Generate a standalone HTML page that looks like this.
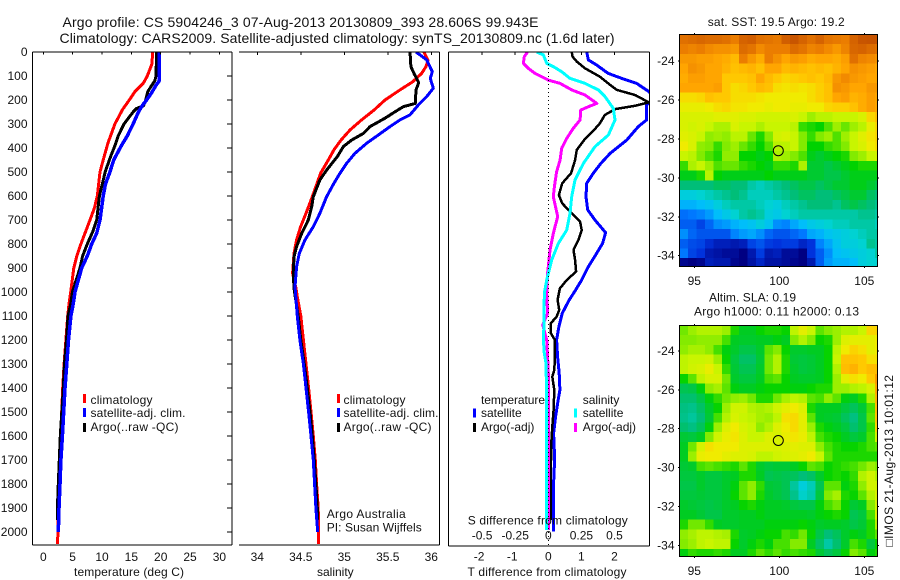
<!DOCTYPE html>
<html>
<head>
<meta charset="utf-8">
<title>Argo profile</title>
<style>
html,body{margin:0;padding:0;background:#fff;}
svg{display:block;font-family:"Liberation Sans","DejaVu Sans",sans-serif;font-size:12px;fill:#000;}
text{dominant-baseline:central;fill:#111;}
</style>
</head>
<body>
<svg id="figure" width="900" height="580" viewBox="0 0 900 580" xmlns="http://www.w3.org/2000/svg">
<rect x="0" y="0" width="900" height="580" fill="#fff"/>
<defs>
<clipPath id="clip-temp"><rect x="32.5" y="52" width="199.5" height="493"/></clipPath>
<clipPath id="clip-sal"><rect x="239" y="52" width="200.5" height="493"/></clipPath>
<clipPath id="clip-diff"><rect x="448.5" y="52" width="200.5" height="493"/></clipPath>
<clipPath id="clip-sst"><rect x="679.5" y="34.5" width="198" height="232"/></clipPath>
<clipPath id="clip-sla"><rect x="679.5" y="325.5" width="198" height="231"/></clipPath>
</defs>
<text x="62.5" y="22" font-size="14" textLength="476" lengthAdjust="spacing">Argo profile: CS 5904246_3 07-Aug-2013 20130809_393 28.606S 99.943E</text>
<text x="59.5" y="38" font-size="14" textLength="555" lengthAdjust="spacing">Climatology: CARS2009. Satellite-adjusted climatology: synTS_20130809.nc (1.6d later)</text>

<g id="panel-temp"></g>
<g id="panel-sal"></g>
<g id="panel-diff"></g>
<g id="map-sst"></g>
<g id="map-sla"></g>

<g>
<rect x="83" y="394" width="3" height="9" fill="#f00"/>
<text x="90.5" y="400" textLength="62">climatology</text>
<rect x="83" y="408" width="3" height="9" fill="#00f"/>
<text x="90.5" y="413" textLength="95">satellite-adj. clim.</text>
<rect x="83" y="423" width="3" height="9" fill="#000"/>
<text x="90.5" y="427" textLength="88">Argo(..raw -QC)</text>
</g>
<g>
<rect x="337" y="394" width="3" height="9" fill="#f00"/>
<text x="343.5" y="400" textLength="62">climatology</text>
<rect x="337" y="408" width="3" height="9" fill="#00f"/>
<text x="343.5" y="413" textLength="95">satellite-adj. clim.</text>
<rect x="337" y="423" width="3" height="9" fill="#000"/>
<text x="343.5" y="427" textLength="88">Argo(..raw -QC)</text>
<text x="326.7" y="514" textLength="79">Argo Australia</text>
<text x="326.7" y="527.5" textLength="95">PI: Susan Wijffels</text>
</g>
<g>
<text x="481" y="400" textLength="64">temperature</text>
<rect x="473" y="408.5" width="3" height="9" fill="#00f"/>
<text x="481" y="413">satellite</text>
<rect x="473" y="423" width="3" height="9" fill="#000"/>
<text x="481" y="427">Argo(-adj)</text>
<text x="582.7" y="400">salinity</text>
<rect x="574" y="408.5" width="3" height="9" fill="#0ff"/>
<text x="582.7" y="413">satellite</text>
<rect x="574" y="423" width="3" height="9" fill="#f0f"/>
<text x="582.7" y="427">Argo(-adj)</text>
</g>
<text x="467.7" y="520.7" textLength="160">S difference from climatology</text>
<text x="467.5" y="572" textLength="159">T difference from climatology</text>
<text x="74" y="572" textLength="110">temperature (deg C)</text>
<text x="317" y="572">salinity</text>
<text x="707.7" y="22" textLength="137">sat. SST: 19.5 Argo: 19.2</text>
<text x="709" y="297.5" textLength="87">Altim. SLA: 0.19</text>
<text x="694" y="311.5" textLength="165">Argo h1000: 0.11 h2000: 0.13</text>
<text transform="translate(889,546.5) rotate(-90)" textLength="171.5">□IMOS 21-Aug-2013 10:01:12</text>
</svg>

<script>
// ---------- profile data (depth in m, temperature in deg C, salinity in psu) ----------
const tempClimDepths = [0,50,100,130,165,200,240,300,380,450,500,600,650,700,755,800,850,900,1000,1050,1100,1200,1300,1400,1500,1600,1700,1800,1900,2000,2050];
const tempClimValues = [18.63,18.5,17.72,17.04,15.6,14.65,13.5,12.2,11,10.2,9.66,9.2,8.7,7.95,7.1,6.4,5.7,5.2,4.66,4.37,4.15,3.85,3.55,3.3,3.13,2.96,2.73,2.62,2.45,2.5,2.4];
const tempArgoDepths = [0,100,120,140,165,200,225,235,250,300,350,390,450,500,550,600,700,750,800,850,900,1000,1050,1100,1200,1300,1400,1500,1600,1700,1800,1900,1950];
const tempArgoValues = [19.3,19.2,19,18.45,17.8,17.45,17.05,15.9,15.3,13.75,12.75,12.2,11.25,10.55,10.05,9.55,9.1,8.4,7.5,6.7,6.25,4.95,4.66,4.2,3.95,3.6,3.4,3.15,2.9,2.73,2.56,2.4,2.4];
const tempSatDepths = [0,120,135,170,200,222,250,300,350,390,450,500,550,600,700,755,800,850,900,1000,1050,1100,1200,1300,1400,1500,1600,1700,1800,1900,2000];
const tempSatValues = [19.76,19.76,19.3,18.45,17.6,16.9,16.2,15.3,14.3,13.3,12,11.35,10.6,10.2,9.66,9.1,8.25,7.5,6.55,5.4,5.1,4.7,4.3,4,3.7,3.48,3.26,3,2.85,2.68,2.56];

const salClimDepths = [0,36,61,89,124,158,200,242,283,325,367,408,450,505,561,617,672,728,783,839,922,985,1020,1100,1200,1300,1400,1500,1600,1700,1800,1900,2000,2050];
const salClimValues = [35.916,35.962,35.939,35.889,35.786,35.64,35.468,35.341,35.199,35.065,34.962,34.881,34.816,34.728,34.674,34.617,34.56,34.498,34.452,34.422,34.406,34.445,34.46,34.5,34.53,34.56,34.59,34.617,34.644,34.667,34.682,34.7,34.705,34.705];
const salArgoDepths = [0,61,89,128,158,214,228,249,276,311,339,367,394,436,492,533,603,644,700,756,811,853,922,985,1100,1200,1300,1400,1500,1600,1700,1800,1900,1950];
const salArgoValues = [35.755,35.766,35.801,35.855,35.824,35.816,35.678,35.583,35.468,35.295,35.219,35.084,34.989,34.92,34.797,34.72,34.644,34.625,34.586,34.51,34.452,34.422,34.414,34.422,34.47,34.5,34.54,34.575,34.606,34.632,34.655,34.674,34.69,34.69];
const salSatDepths = [0,12,33,82,110,151,186,221,262,283,311,346,380,422,464,505,547,603,672,728,783,839,894,978,1100,1200,1300,1400,1500,1600,1700,1800,1900,2000];
const salSatValues = [35.824,35.87,35.947,36.012,35.989,36.023,35.947,35.851,35.755,35.64,35.525,35.391,35.257,35.123,35.027,34.95,34.881,34.797,34.72,34.644,34.548,34.483,34.452,34.433,34.46,34.49,34.53,34.56,34.59,34.617,34.644,34.659,34.674,34.694];

const dTSatDepths = [0,33,54,89,110,131,165,193,221,283,311,367,422,464,505,547,603,658,700,753,797,839,894,950,1006,1033,1089,1144,1200,1270,1339,1408,1464,1519,1589,1658,1728,1797,1867,1950,1998];
const dTSatValues = [1.16,1.21,1.46,1.81,2.22,2.67,3.04,3.2,2.97,2.97,2.72,2.37,1.87,1.59,1.36,1.16,1.14,1.19,1.41,1.73,1.64,1.46,1.21,1.01,0.76,0.63,0.42,0.32,0.25,0.28,0.33,0.35,0.28,0.22,0.16,0.18,0.18,0.16,0.15,0.15,0.15];
const dTArgoDepths = [0,19,40,68,103,131,158,179,210,224,238,262,297,325,362,408,450,505,547,596,631,672,707,742,783,825,867,915,950,985,1033,1075,1103,1130,1172,1200,1270,1325,1353,1408,1492,1561,1630,1728,1867,1950];
const dTArgoValues = [0.71,0.73,0.86,1.11,1.56,1.81,2.07,2.62,3.04,2.62,2.02,1.71,1.56,1.38,1.11,0.86,0.81,0.69,0.42,0.32,0.42,0.71,0.96,1.01,0.91,0.76,0.81,0.84,0.56,0.35,0.28,0.33,0.25,0.08,0.08,0.2,0.2,0.18,0.12,0.18,0.16,0.12,0.09,0.08,0.08,0.08];
const dSSatDepths = [0,12,47,61,82,110,131,158,186,235,283,346,394,464,533,603,672,742,797,867,950,1006,1117,1200,1256,1297,1450,1728,1992];
const dSSatValues = [-0.088,-0.037,-0.012,0.038,0.101,0.164,0.277,0.378,0.428,0.491,0.504,0.454,0.353,0.265,0.202,0.177,0.164,0.139,0.076,0.026,-0.012,-0.03,-0.032,-0.037,-0.03,-0.017,-0.012,-0.012,-0.012];
const dSArgoDepths = [0,19,47,68,89,117,131,158,179,214,228,242,283,318,360,401,450,499,561,603,686,756,825,922,1006,1089,1137,1200,1270,1339,1500,1992];
const dSArgoValues = [-0.156,-0.181,-0.188,-0.151,-0.1,0,0.089,0.177,0.277,0.366,0.303,0.245,0.24,0.189,0.139,0.101,0.089,0.063,0.046,0.038,0.071,0.038,0.013,-0.005,-0.012,-0.005,-0.042,-0.012,-0.005,0,0,0];

const depthTicks = [0,100,200,300,400,500,600,700,800,900,1000,1100,1200,1300,1400,1500,1600,1700,1800,1900,2000];
const tempTicks = [0,5,10,15,20,25,30];
const salTicks = [34,34.5,35,35.5,36];
const salTickLabels = ['34','34.5','35','35.5','36'];
const dTTicks = [-2,-1,0,1,2];
const dSTicks = [-0.5,-0.25,0,0.25,0.5];
const dSTickLabels = ['-0.5','-0.25','0','0.25','0.5'];
const lonTicks = [95,100,105];
const latTicks = [24,26,28,30,32,34];

// ---------- map data: 0.5-degree rows north to south, west to east ----------
const sstRows = [
[21.9,22,22.1,22,22,21.9,21.6,22.2,22.3,21.9,21.8,21.7,22.3,22.6,22.2,21.9,22.2,21.8,21.7,21.6,22.2,22.6,22.7,22.6],
[21.6,21.5,21.6,21.4,21.3,21.3,21.2,22,21.8,21.4,21.6,21.6,21.6,22,21.8,21.5,21.6,21.4,21.2,21.5,22.1,22.2,22,21.9],
[21.2,21.2,21.1,21.1,21,20.9,20.7,21.6,21.2,20.9,21.6,21.3,21,21.2,21.1,20.9,21,21,20.9,21.1,21.9,21.5,21.4,21.3],
[21,21.3,21.2,21,21,20.8,20.6,20.7,20.8,20.6,21,21,20.7,20.8,20.7,20.6,20.7,20.6,20.8,21,21.3,21.2,21.1,21],
[20.9,21.1,21.1,21,21,20.5,20.5,20.5,20.6,21,20.7,20.5,20.3,20.4,20.5,20.6,20.5,20.7,21.2,21.4,21.2,21.1,21,21],
[21,21,21,21,21.1,20.5,20.2,20.3,20.5,20.7,20.6,20.2,20.1,20.2,20.1,20.2,20.4,20.6,21.3,21.2,21,21,21.2,21.2],
[20.2,20.2,20.3,20.6,20.5,20.5,20.2,20.2,20.2,20.1,20,20,20,20,20,20.2,20.4,20.6,21,21.1,20.8,20.9,21.1,21],
[19.9,19.9,19.9,20,20.2,20.3,20.1,20.1,20,20,19.9,20,20,19.9,19.9,20,20,20.3,20.4,20.4,20.6,20.9,21.1,21],
[19.7,19.7,19.7,19.7,19.8,19.8,19.8,19.7,19.7,19.6,19.6,19.6,19.6,19.7,19.5,19.2,19.4,19.4,19.5,19.5,19.5,19.7,20.3,20.6],
[19.7,19.6,19.7,19.5,19.3,19.3,19.7,19.5,19.5,19.3,19.5,19.5,19.5,19.4,18.7,18.6,18.5,18.8,19.2,18.9,19.2,19.4,19.9,20.3],
[19.8,19.7,19.5,19.1,19.2,19.1,19.4,19.4,18.9,18.6,19,19.6,19.7,19.5,19,18.7,19,19.2,18.8,19.2,19.5,19.8,20.1,20.3],
[20,19.7,19.1,19,18.7,19,19.2,18.9,18.7,18.5,18.8,19.4,19.4,19.5,19,18.5,18.5,18.7,18.8,19,19.5,19.7,20,20.2],
[19.5,19.4,19,18.8,18.6,19.1,19.1,18.5,18.5,18.4,18.5,19.3,19.2,19,18.8,18.4,18.3,18.4,18.5,18.6,19,19.2,19.5,19.6],
[18.7,19.3,19.5,19.2,18.8,18.9,18.9,18.7,18.6,18.5,18.4,18.7,18.7,18.6,19.3,18.3,18.3,18.2,18.3,18.4,18.5,18.6,18.6,18.6],
[18.4,18.4,18.6,19.4,18.5,18.4,18.4,18.4,18.4,18.4,18.5,18.4,18.4,18.4,18.4,18.3,18.3,18.2,18.2,18.3,18.4,18.4,18.4,18.4],
[18,18,18,18,18.1,18.1,18,18,17.8,17.7,17.8,17.9,18,18.1,18.2,18.2,18.1,18.2,18.3,18.3,18.4,18.4,18.3,18.2],
[17.5,17.5,17.6,17.7,17.8,17.9,18,17.9,17.7,17.7,17.7,17.8,17.9,18,18.1,18.1,18,18,18.1,18.2,18.3,18.3,18.1,18],
[17.1,17.1,17.2,17.3,17.5,17.7,17.8,17.8,17.8,17.7,17.6,17.5,17.7,17.8,17.9,18,18,18,17.9,18.1,18.2,18.1,18,17.9],
[16.5,16.6,16.7,16.9,17.2,17.4,17.6,17.8,17.9,17.8,17.5,17.4,17.6,17.7,17.8,17.8,17.8,17.8,17.8,17.8,17.8,17.9,17.9,17.8],
[16.3,16.3,16,16.4,16.8,16.9,17.1,17.2,17.3,17.5,17.3,16.8,16.7,17,17.2,17.4,17.5,17.6,17.7,17.7,17.8,17.8,17.8,17.7],
[16.8,16.4,16.2,16.2,16.2,16.2,16.7,16.9,17,16.8,16.4,16.2,16.2,16.4,16.6,17,17.1,17.3,17.4,17.5,17.6,17.7,17.8,17.8],
[16.3,16.1,16,15.7,15.5,15.5,15.4,15.5,16,16.2,15.9,15.8,15.9,15.9,15.6,15.8,16.7,17,17.3,17.5,17.5,17.6,17.9,17.8],
[16.6,16,15.8,15.4,15.3,15.2,15.2,15,15.4,15.9,15.4,15.5,15.2,15.2,15,15.8,16.3,16.8,17.2,17.3,17.4,17.5,17.6,17.8],
[15.1,15,15.1,15.5,15.4,15.4,15.1,15,15.3,15.6,15.3,15.3,15.2,15.1,15,15.4,16.3,16.9,17.1,17.1,17.2,17.5,17.6,17.6]
];
const slaRows = [
[.07,.1,.12,.12,.12,.1,.03,0,0,.02,.03,.03,.02,.13,.18,.14,.06,.08,.1,.12,.12,.14,.24,.24],
[.08,.08,.09,.09,.09,.05,0,-.01,-.01,0,0,.01,0,.08,.12,.08,.02,.03,.1,.17,.18,.18,.18,.2],
[.09,.11,.11,.09,.05,.01,-.01,-.04,-.04,-.01,.06,.08,.02,-.01,-.01,0,0,.02,.13,.2,.24,.22,.18,.2],
[.13,.14,.14,.15,.1,.02,-.03,-.07,-.07,-.02,.07,.12,.03,-.02,-.03,-.02,0,.02,.14,.27,.27,.26,.22,.22],
[.13,.15,.16,.19,.14,.04,-.02,-.05,-.05,-.01,.07,.12,.03,-.01,-.03,-.02,0,.02,.12,.28,.3,.26,.28,.28],
[.02,.06,.13,.16,.16,.07,-.01,-.03,-.03,0,.05,.06,.02,0,-.01,-.01,0,.02,.1,.18,.22,.2,.26,.34],
[-.05,-.04,.01,.09,.11,.06,.01,0,0,.01,.02,.02,.02,.01,.01,.02,.03,.03,.1,.1,.12,.13,.16,.32],
[-.08,-.08,-.04,.01,.04,.07,.09,.1,.07,.03,.03,.07,.11,.13,.12,.06,.05,.09,.06,.01,0,.03,.12,.3],
[-.1,-.11,-.07,-.01,.02,.1,.15,.15,.12,.11,.12,.15,.18,.2,.17,.03,0,0,0,-.03,-.06,-.02,.05,.28],
[-.11,-.13,-.09,-.02,.05,.12,.16,.14,.13,.11,.1,.13,.22,.23,.18,.06,0,-.01,-.02,-.06,-.1,-.04,.06,.27],
[-.08,-.1,-.06,.01,.1,.17,.2,.16,.14,.09,.12,.17,.2,.23,.18,.1,.03,.01,0,-.03,-.08,-.04,.04,.24],
[-.02,-.03,0,.08,.15,.19,.21,.17,.14,.14,.17,.16,.19,.21,.19,.13,.05,.03,.02,0,-.03,-.01,.05,.15],
[0,.07,.16,.22,.2,.2,.2,.17,.17,.17,.17,.16,.17,.18,.17,.17,.09,.05,.03,.02,.02,.03,.05,.06],
[0,.1,.19,.2,.2,.18,.17,.17,.16,.13,.13,.15,.16,.17,.18,.2,.14,.06,.03,.03,.03,.03,.03,.03],
[-.02,-.01,.05,.06,.05,.04,.03,.06,.03,-.01,-.03,-.02,-.02,0,.02,.06,.05,.02,.03,.04,.05,.07,.1,.08],
[-.03,-.03,-.01,-.03,-.03,-.01,0,.03,.03,0,-.05,-.04,-.05,-.06,-.09,-.07,-.01,.02,.03,.02,.04,.12,.15,.12],
[-.04,-.04,-.01,-.03,-.03,-.01,.01,.06,.09,.04,-.02,-.03,-.05,-.13,-.21,-.16,-.05,.06,.06,.01,.03,.09,.15,.15],
[-.03,-.03,-.02,-.03,-.03,-.01,.02,.06,.09,.03,-.01,-.03,-.05,-.11,-.18,-.15,-.03,.08,.11,.03,.02,.06,.12,.16],
[-.01,-.02,-.03,-.04,-.03,-.01,0,.02,.03,.01,0,0,-.01,-.03,-.04,-.04,.01,.05,.07,.02,-.02,0,.08,.15],
[0,0,-.02,-.04,-.04,-.01,-.01,0,0,.01,0,0,0,0,0,-.01,.01,.02,.03,.02,-.05,-.03,.05,.16],
[.03,.07,.07,.04,0,-.01,-.01,0,0,0,.01,.01,.01,.01,.02,.01,-.01,0,0,-.01,-.04,-.02,.03,.12],
[.09,.11,.13,.13,.12,.11,.03,-.01,0,.01,.02,.02,.05,.04,.07,.02,-.04,-.09,-.06,-.01,.01,0,.03,.06],
[.08,.1,.13,.14,.13,.13,.02,-.01,.01,.03,.01,.05,.05,.08,.08,0,-.07,-.14,-.08,-.01,.05,.03,-.03,.02],
[.01,.04,.03,.03,.04,.03,0,0,.03,.06,.04,.06,.04,.05,.04,.03,-.02,-.06,-.03,.02,.08,.06,.01,.03]
];
const floatLon = [99.943];
const floatLat = [28.606];

// ---------- axis functions ----------
const yDepth = d => 52 + 0.24 * d;
const xTemp = t => 43.3 + 5.87 * t;
const xSal = s => 257.3 + 87 * (s - 34);
const xDT = t => 548.3 + 33.1 * t;
const xDS = s => 548.3 + 132.4 * s;
const xLon = lon => 694.3 + 17 * (lon - 95);
const ySstLat = lat => 61 + 19.47 * (lat - 24);
const ySlaLat = lat => 351 + 19.43 * (lat - 24);
const sstNorm = v => (v - 15) / 8;
const slaNorm = v => v < 0 ? 0.42 + 0.5 * v : 0.42 + 1.025 * v;

const colorScale = [
 [0,[0,0,130]],[0.1,[0,50,220]],[0.2,[0,120,255]],[0.275,[0,190,250]],[0.325,[0,210,210]],
 [0.375,[0,190,120]],[0.4375,[0,210,0]],[0.5,[130,235,0]],[0.5625,[200,245,0]],[0.625,[240,235,0]],
 [0.6875,[255,200,0]],[0.75,[255,165,0]],[0.825,[235,125,0]],[0.925,[205,90,0]],[1,[190,75,0]]
];
function colorFor(p){
  p = Math.max(0, Math.min(1, p));
  for (let i = 1; i < colorScale.length; i++) {
    if (p <= colorScale[i][0]) {
      const a = colorScale[i-1], b = colorScale[i];
      const f = (p - a[0]) / (b[0] - a[0]);
      const c = a[1].map((v, k) => Math.round(v + (b[1][k] - v) * f));
      return 'rgb(' + c.join(',') + ')';
    }
  }
  return 'rgb(190,75,0)';
}

const NS = 'http://www.w3.org/2000/svg';
function mk(tag, parent, attrs){
  const el = document.createElementNS(NS, tag);
  for (const k in attrs) el.setAttribute(k, attrs[k]);
  parent.appendChild(el);
  return el;
}
function label(parent, txt, x, y, anchor){
  const el = mk('text', parent, {x: x, y: y, 'text-anchor': anchor || 'middle'});
  el.textContent = txt;
  return el;
}
function axisLine(parent, x1, y1, x2, y2){
  return mk('line', parent, {x1: x1, y1: y1, x2: x2, y2: y2, stroke: '#000', 'stroke-width': 1, 'shape-rendering': 'crispEdges'});
}
function profile(parent, clipId, depths, values, xFn, color, width){
  const pts = depths.map((d, i) => xFn(values[i]).toFixed(1) + ',' + yDepth(d).toFixed(1)).join(' ');
  return mk('polyline', parent, {points: pts, fill: 'none', stroke: color, 'stroke-width': width, 'clip-path': 'url(#' + clipId + ')', 'shape-rendering': 'crispEdges', 'stroke-linejoin': 'round'});
}
function frameSide(g, x1, y1, x2, y2, name){
  const el = axisLine(g, x1, y1, x2, y2);
  
  
}

// ---------- temperature panel ----------
const pT = document.getElementById('panel-temp');
let s;
s = profile(pT, 'clip-temp', tempClimDepths, tempClimValues, xTemp, '#f00', 3);


s = profile(pT, 'clip-temp', tempArgoDepths, tempArgoValues, xTemp, '#000', 3);


s = profile(pT, 'clip-temp', tempSatDepths, tempSatValues, xTemp, '#00f', 3.5);


frameSide(pT, 32.5, 52, 232, 52, 'temperature-axis-top');
frameSide(pT, 32.5, 545, 232, 545, 'temperature-axis-bottom');
frameSide(pT, 32.5, 52, 32.5, 545, 'temperature-axis-left');
frameSide(pT, 232, 52, 232, 545, 'temperature-axis-right');
depthTicks.forEach(d => {
  const t = axisLine(pT, 227, yDepth(d), 232, yDepth(d));
  
  
  const l = label(pT, String(d), 27.5, yDepth(d), 'end');
  
  
});
tempTicks.forEach(v => {
  const t = axisLine(pT, xTemp(v), 52, xTemp(v), 54.5);
  
  
  const l = label(pT, String(v), xTemp(v), 557);
  
  
});

// ---------- salinity panel ----------
const pS = document.getElementById('panel-sal');
s = profile(pS, 'clip-sal', salClimDepths, salClimValues, xSal, '#f00', 3);


s = profile(pS, 'clip-sal', salArgoDepths, salArgoValues, xSal, '#000', 3);


s = profile(pS, 'clip-sal', salSatDepths, salSatValues, xSal, '#00f', 3);


frameSide(pS, 239, 52, 439.5, 52, 'salinity-axis-top');
frameSide(pS, 239, 545, 439.5, 545, 'salinity-axis-bottom');
frameSide(pS, 439.5, 52, 439.5, 545, 'salinity-axis-right');
salTicks.forEach((v, i) => {
  const t = axisLine(pS, xSal(v), 52, xSal(v), 55);
  
  
  const l = label(pS, salTickLabels[i], xSal(v), 557);
  
  
});

// ---------- difference panel ----------
const pD = document.getElementById('panel-diff');
s = profile(pD, 'clip-diff', dTSatDepths, dTSatValues, xDT, '#00f', 3);


s = profile(pD, 'clip-diff', dTArgoDepths, dTArgoValues, xDT, '#000', 2.5);


s = profile(pD, 'clip-diff', dSArgoDepths, dSArgoValues, xDS, '#f0f', 3);


s = profile(pD, 'clip-diff', dSSatDepths, dSSatValues, xDS, '#0ff', 3);


const zeroLine = mk('line', pD, {x1: xDT(0), y1: 52, x2: xDT(0), y2: 545, stroke: '#000', 'stroke-width': 1, 'stroke-dasharray': '1 3', 'shape-rendering': 'crispEdges'});


frameSide(pD, 448.5, 52, 649.5, 52, 'difference-axis-top');
frameSide(pD, 448.5, 546, 649.5, 546, 'difference-axis-bottom');
frameSide(pD, 448.5, 52, 448.5, 546, 'difference-axis-left');
frameSide(pD, 649.5, 52, 649.5, 546, 'difference-axis-right');
dTTicks.forEach(v => {
  const t = axisLine(pD, xDT(v), 52, xDT(v), 55);
  
  
  const l = label(pD, String(v), xDT(v) - (v < 0 ? 3 : 0), 556.7);
  
  
});
dSTicks.forEach((v, i) => {
  const l = label(pD, dSTickLabels[i], xDS(v), 535.7);
  
  
});

// ---------- maps ----------
function drawMap(g, rows, norm, yLat, latStart, clipId, left, top, right, bottom){
  const lonStart = 94.12;
  rows.forEach((row, j) => {
    row.forEach((v, i) => {
      const x0 = xLon(lonStart + i * 0.5), x1 = xLon(lonStart + (i + 1) * 0.5);
      const y0 = yLat(latStart + j * 0.5), y1 = yLat(latStart + (j + 1) * 0.5);
      const c = mk('rect', g, {x: x0.toFixed(2), y: y0.toFixed(2), width: (x1 - x0).toFixed(2), height: (y1 - y0).toFixed(2), fill: colorFor(norm(v)), 'clip-path': 'url(#' + clipId + ')', 'shape-rendering': 'crispEdges'});
      
      
    });
  });
  const frame = mk('rect', g, {x: left, y: top, width: right - left, height: bottom - top, fill: 'none', stroke: '#000', 'stroke-width': 1, 'shape-rendering': 'crispEdges'});
  
  
  lonTicks.forEach(lon => {
    const t1 = axisLine(g, xLon(lon), top - 1.5, xLon(lon), top);
    
    
    const t2 = axisLine(g, xLon(lon), bottom, xLon(lon), bottom + 1.5);
    
    
    const l = label(g, String(lon), xLon(lon), bottom + 14.5);
    
    
  });
  latTicks.forEach(lat => {
    const t1 = axisLine(g, left - 1.5, yLat(lat), left, yLat(lat));
    
    
    const t2 = axisLine(g, right, yLat(lat), right + 1.5, yLat(lat));
    
    
    const l = label(g, '-' + lat, 674.5, yLat(lat), 'end');
    
    
  });
  const ring = mk('circle', g, {cx: xLon(floatLon[0]).toFixed(1), cy: yLat(floatLat[0]).toFixed(1), r: 5, fill: 'none', stroke: '#000', 'stroke-width': 1});
  
  
}
drawMap(document.getElementById('map-sst'), sstRows, sstNorm, ySstLat, 22.63, 'clip-sst', 679.5, 34.5, 877.5, 266.5);
drawMap(document.getElementById('map-sla'), slaRows, slaNorm, ySlaLat, 22.68, 'clip-sla', 679.5, 325.5, 877.5, 556.5);
</script>
</body>
</html>
